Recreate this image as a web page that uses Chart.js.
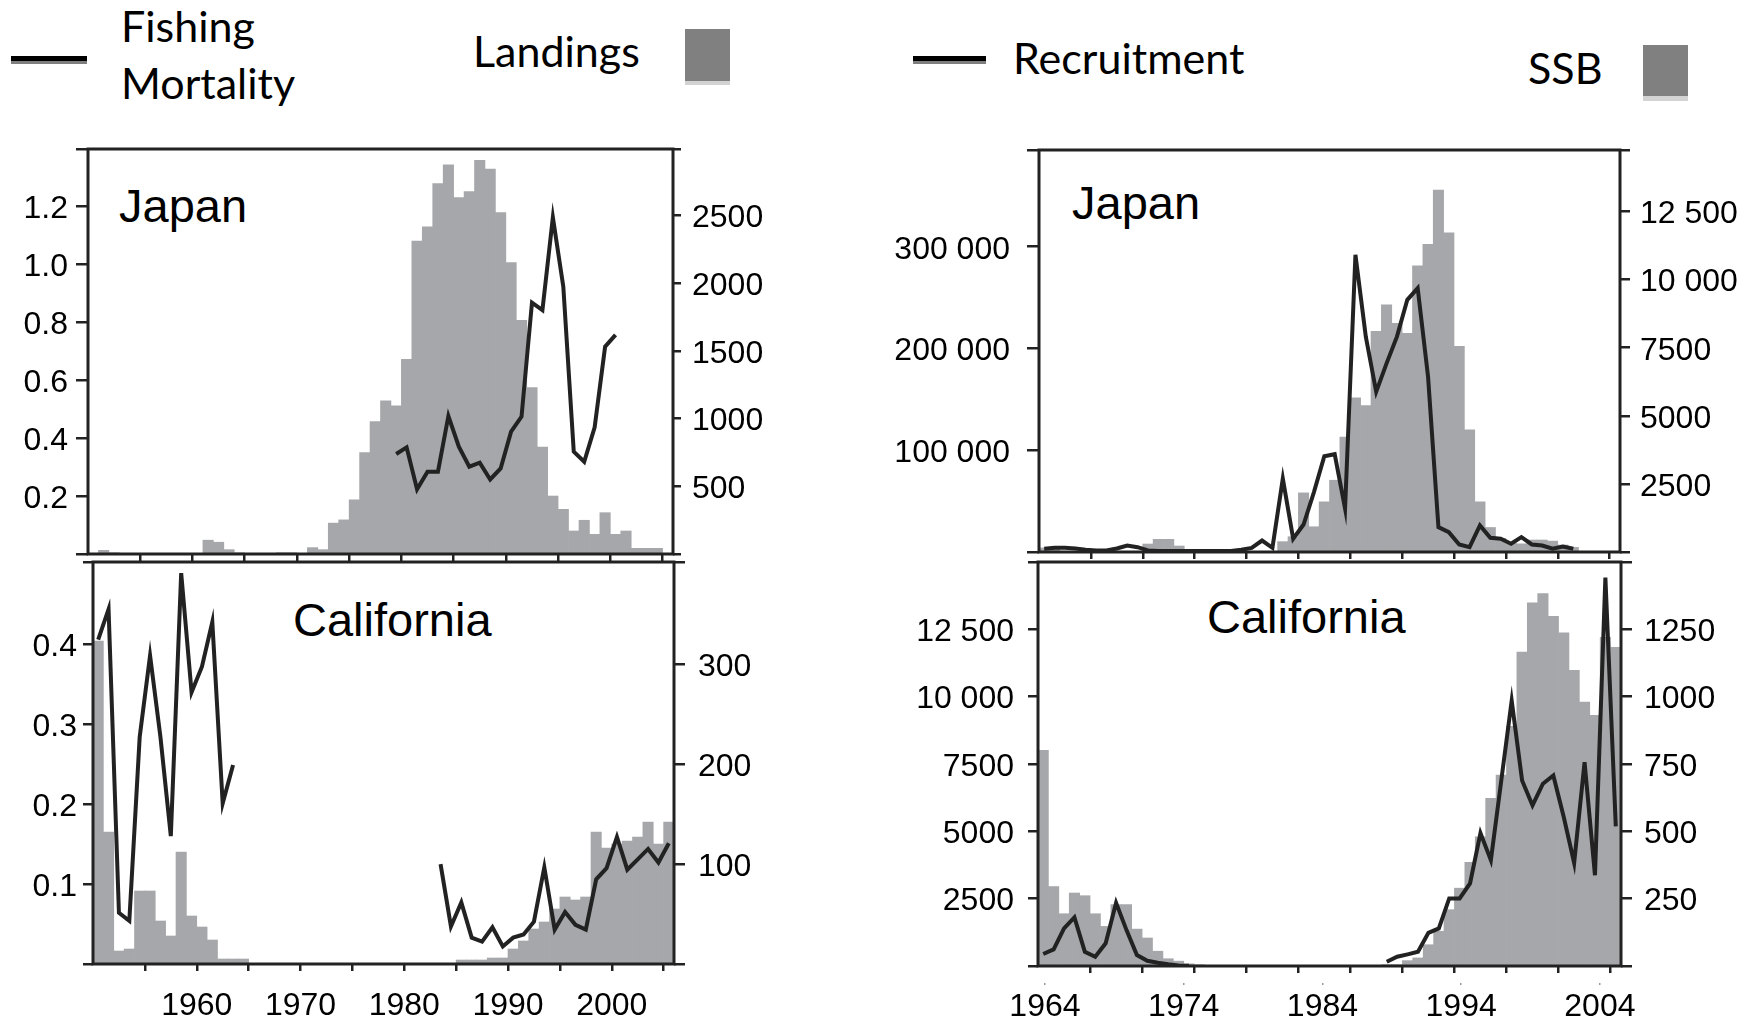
<!DOCTYPE html>
<html>
<head>
<meta charset="utf-8">
<title>Sardine: Japan and California</title>
<script src="https://cdn.jsdelivr.net/npm/chart.js@4.4.1/dist/chart.umd.min.js"></script>
<style>
  html, body { margin: 0; padding: 0; background: #fff; }
  body { position: relative; width: 1756px; height: 1023px; overflow: hidden; }
  canvas { position: absolute; }
  .lg { position: absolute; font-family: Lato, 'Open Sans', sans-serif; font-size: 43px; line-height: 1; color: #000; white-space: nowrap; }
  .pl { position: absolute; font-family: 'Liberation Sans', Arial, sans-serif; font-size: 47px; line-height: 1; color: #000; white-space: nowrap; }
  .sw { position: absolute; }
</style>
</head>
<body>
<!-- legend, left pair -->
<div class="sw" style="left:11px;top:56px;width:76px;height:5px;background:#000"></div>
<div class="sw" style="left:11px;top:61px;width:76px;height:3px;background:#7f7f7f"></div>
<div class="lg" style="left:121px;top:4px">Fishing</div>
<div class="lg" style="left:121px;top:61px">Mortality</div>
<div class="lg" style="left:473px;top:29px">Landings</div>
<div class="sw" style="left:685px;top:29px;width:45px;height:52px;background:#808080"></div>
<div class="sw" style="left:685px;top:81px;width:45px;height:4px;background:#d3d3d3"></div>
<!-- legend, right pair -->
<div class="sw" style="left:913px;top:56px;width:73px;height:5px;background:#000"></div>
<div class="sw" style="left:913px;top:61px;width:73px;height:3px;background:#7f7f7f"></div>
<div class="lg" style="left:1013px;top:36px">Recruitment</div>
<div class="lg" style="left:1528px;top:46px">SSB</div>
<div class="sw" style="left:1643px;top:45px;width:45px;height:51px;background:#808080"></div>
<div class="sw" style="left:1643px;top:96px;width:45px;height:5px;background:#d3d3d3"></div>

<script>
// one value per year, 1950 .. 2005
const years = [1950, 1951, 1952, 1953, 1954, 1955, 1956, 1957, 1958, 1959,
  1960, 1961, 1962, 1963, 1964, 1965, 1966, 1967, 1968, 1969,
  1970, 1971, 1972, 1973, 1974, 1975, 1976, 1977, 1978, 1979,
  1980, 1981, 1982, 1983, 1984, 1985, 1986, 1987, 1988, 1989,
  1990, 1991, 1992, 1993, 1994, 1995, 1996, 1997, 1998, 1999,
  2000, 2001, 2002, 2003, 2004, 2005];

// Japan: landings (bars, right axis) and fishing mortality (line, left axis)
const japanLandings = [null, 27, 5, 0, 0, 0, 0, 0, 0, 0,
  0, 102, 87, 32, 5, 0, 0, 0, 6, 6,
  0, 47, 32, 228, 252, 400, 748, 977, 1130, 1093,
  1438, 2311, 2415, 2735, 2873, 2631, 2675, 2907, 2841, 2520,
  2151, 1726, 1228, 790, 428, 330, 170, 249, 145, 305,
  145, 170, 42, 42, 42, null];
const japanF = [null, null, null, null, null, null, null, null, null, null,
  null, null, null, null, null, null, null, null, null, null,
  null, null, null, null, null, null, null, null, null, 0.345,
  0.368, 0.223, 0.284, 0.284, 0.476, 0.37, 0.301, 0.315, 0.257, 0.295,
  0.422, 0.474, 0.867, 0.841, 1.161, 0.922, 0.353, 0.318, 0.437, 0.715,
  0.756, null, null, null, null, null];

// California: landings and fishing mortality
const calLandings = [323, 132, 13, 15, 73, 73, 43, 28, 112, 48,
  37, 24, 5, 5, 5, null, null, null, null, null,
  null, null, null, null, null, null, null, null, null, null,
  null, null, null, null, null, 4, 4, 4, 6, 6,
  15, 23, 35, 42, 55, 67, 64, 67, 132, 116,
  120, 123, 127, 142, 120, 142];
const calF = [0.406, 0.444, 0.064, 0.054, 0.284, 0.386, 0.284, 0.160, 0.489, 0.340,
  0.372, 0.428, 0.201, 0.249, null, null, null, null, null, null,
  null, null, null, null, null, null, null, null, null, null,
  null, null, null, 0.125, 0.047, 0.077, 0.033, 0.028, 0.046, 0.022,
  0.033, 0.037, 0.053, 0.121, 0.043, 0.065, 0.049, 0.043, 0.106, 0.120,
  0.159, 0.118, 0.131, 0.144, 0.127, 0.151];

// Japan: recruitment (line, left axis) and SSB (bars, right axis)
const japanRec = [3200, 4100, 4100, 3500, 2200, 1500, 1500, 3500, 6400, 4700,
  1500, 1000, 1000, 1000, 1000, 1000, 1000, 1000, 1000, 2200,
  4000, 11300, 4100, 72100, 13000, 27000, 58900, 94100, 96100, 42600,
  292100, 211600, 157400, 185400, 211600, 247800, 259300, 172200, 24400, 19500,
  7400, 4700, 26100, 14000, 13000, 8100, 14600, 7400, 6400, 3200,
  5400, 3200, null, null, null, null];
const japanSSB = [150, 150, 0, 0, 0, 0, 0, 0, 0, 0,
  293, 465, 465, 220, 0, 0, 0, 0, 0, 0,
  0, 0, 0, 380, 560, 2170, 927, 1842, 2635, 4221,
  5661, 5380, 8100, 9077, 8393, 8027, 10504, 11298, 13286, 11723,
  7551, 4490, 1842, 900, 500, 350, 300, 440, 440, 400,
  256, 170, null, null, null, null];

// California: recruitment and SSB
const calRec = [444, 618, 1396, 1804, 530, 345, 841, 2345, 1333, 407,
  196, 122, 63, 20, 10, null, null, null, null, null,
  null, null, null, null, null, null, null, null, null, null,
  null, null, null, 159, 344, 433, 530, 1233, 1396, 2508,
  2508, 3063, 4937, 3926, 6889, 9853, 6889, 5963, 6767, 7075,
  5530, 3826, 7568, 3371, 14420, 5186];
const calSSB = [801, 295, 194, 271, 261, 194, 147, 228, 228, 137,
  104, 55, 27, 18, 8, 4, null, null, null, null,
  null, null, null, null, null, null, null, null, null, null,
  null, null, null, 3, 5, 20, 30, 79, 129, 209,
  289, 385, 480, 623, 709, 890, 1166, 1348, 1383, 1298,
  1237, 1098, 980, 931, 1220, 1183];

// tick values
const fTicksJapan = [0.2, 0.4, 0.6, 0.8, 1.0, 1.2];
const landTicksJapan = [500, 1000, 1500, 2000, 2500];
const fTicksCal = [0.1, 0.2, 0.3, 0.4];
const landTicksCal = [100, 200, 300];
const recTicksJapan = [100000, 200000, 300000];
const ssbTicksJapan = [2500, 5000, 7500, 10000, 12500];
const recTicksCal = [2500, 5000, 7500, 10000, 12500];
const ssbTicksCal = [250, 500, 750, 1000, 1250];
const yearTicks = [1955, 1960, 1965, 1970, 1975, 1980, 1985, 1990, 1995, 2000, 2005];
const leftYearLabels = [1960, 1970, 1980, 1990, 2000];
const rightYearLabels = [1964, 1974, 1984, 1994, 2004];

const FONT = "'Liberation Sans', Arial, Helvetica, sans-serif";
const INK = '#222';
const BAR = '#a6a7aa';

function spaced(v) {
  return v >= 10000 ? String(v).replace(/\B(?=(\d{3})+(?!\d))/g, ' ') : String(v);
}
const oneDec = v => v.toFixed(1);
const toPoints = vals => years.map((y, i) => ({ x: y + 0.5, y: vals[i] }));

// draws the frame round the plot area
const framePlugin = {
  id: 'frame',
  afterDraw(chart) {
    const { ctx, chartArea: a } = chart;
    ctx.save();
    ctx.strokeStyle = INK;
    ctx.lineWidth = 3;
    ctx.strokeRect(a.left, a.top, a.right - a.left, a.bottom - a.top);
    ctx.restore();
  }
};

function makePanel(p) {
  const [left, top, W, H] = p.box;
  const a = p.area;
  const cv = document.createElement('canvas');
  cv.width = W; cv.height = H;
  cv.style.left = left + 'px';
  cv.style.top = top + 'px';
  document.body.appendChild(cv);

  const tickFont = { family: FONT, size: 32 };
  // tick marks also at both ends of each value axis, those stay unlabelled
  const yAxis = (cfg, side) => ({
    type: 'linear', position: side, min: cfg.min, max: cfg.max,
    afterBuildTicks: s => { s.ticks = [cfg.min, ...cfg.ticks, cfg.max].map(v => ({ value: v })); },
    afterFit: s => {
      s.width = side === 'left' ? a.l : W - a.r;
      s.paddingTop = 0; s.paddingBottom = 0;
    },
    grid: { display: true, drawOnChartArea: false, drawTicks: true, tickLength: cfg.tick, color: INK, lineWidth: 2.5 },
    border: { display: false },
    ticks: {
      font: tickFont, color: '#000', padding: cfg.pad, labelOffset: 3, autoSkip: false,
      callback: v => cfg.ticks.includes(v) ? cfg.fmt(v) : ''
    }
  });

  const scales = {
    x: {
      type: 'linear', position: 'bottom', min: 1950, max: 2006, weight: 0, offset: false,
      afterBuildTicks: s => { s.ticks = yearTicks.map(v => ({ value: v })); },
      afterFit: s => { s.height = p.xH; s.paddingLeft = 0; s.paddingRight = 0; },
      grid: { display: true, offset: false, drawOnChartArea: false, drawTicks: true, tickLength: 7, color: INK, lineWidth: 2.5 },
      border: { display: false },
      ticks: {
        display: !!p.xLabels, font: tickFont, color: '#000', padding: 16, maxRotation: 0, autoSkip: false,
        callback: v => (p.xLabels && p.xLabels.includes(v)) ? String(v) : ''
      }
    },
    yL: yAxis(p.yl, 'left'),
    yR: yAxis(p.yr, 'right')
  };

  if (p.xl) {
    // separate row of year labels under the tick marks
    scales.xl = {
      type: 'linear', position: 'bottom', min: p.xl.min, max: p.xl.max, weight: 1, offset: false,
      afterBuildTicks: s => { s.ticks = p.xl.labels.map(v => ({ value: v })); },
      afterFit: s => { s.height = H - a.b - p.xH; s.paddingLeft = 0; s.paddingRight = 0; },
      grid: { display: true, offset: false, drawOnChartArea: false, drawTicks: true, tickLength: 2, color: '#999', lineWidth: 1.5 },
      border: { display: false },
      ticks: { font: tickFont, color: '#000', padding: 3, maxRotation: 0, autoSkip: false, callback: v => String(v) }
    };
  }

  new Chart(cv, {
    data: {
      datasets: [
        {
          type: 'line', label: p.lineName, data: toPoints(p.line),
          xAxisID: 'x', yAxisID: 'yL', order: 0,
          borderColor: INK, borderWidth: 4, pointRadius: 0, tension: 0, spanGaps: false
        },
        {
          type: 'bar', label: p.barName, data: toPoints(p.bars),
          xAxisID: 'x', yAxisID: 'yR', order: 1,
          backgroundColor: BAR, borderWidth: 0, barPercentage: 1, categoryPercentage: 1
        }
      ]
    },
    options: {
      responsive: false,
      animation: false,
      devicePixelRatio: 1,
      layout: { padding: { top: a.t, left: 0, right: 0, bottom: 0 } },
      plugins: { legend: { display: false }, tooltip: { enabled: false }, title: { display: false } },
      scales: scales
    },
    plugins: [framePlugin]
  });
}

document.addEventListener('DOMContentLoaded', () => {
  try {
    makePanel({
      box: [0, 120, 870, 441], area: { l: 88, r: 673, t: 29, b: 434 }, xH: 7,
      bars: japanLandings, line: japanF, barName: 'Landings', lineName: 'Fishing Mortality',
      yl: { min: 0, max: 1.397, ticks: fTicksJapan, fmt: oneDec, tick: 12, pad: 8 },
      yr: { min: 0, max: 2990, ticks: landTicksJapan, fmt: spaced, tick: 8, pad: 11 }
    });
    makePanel({
      box: [0, 559, 870, 464], area: { l: 93, r: 674, t: 3, b: 405 }, xH: 59,
      bars: calLandings, line: calF, barName: 'Landings', lineName: 'Fishing Mortality',
      yl: { min: 0, max: 0.503, ticks: fTicksCal, fmt: oneDec, tick: 10, pad: 6 },
      yr: { min: 0, max: 402, ticks: landTicksCal, fmt: spaced, tick: 11, pad: 13 },
      xLabels: leftYearLabels
    });
    makePanel({
      box: [870, 120, 886, 441], area: { l: 169, r: 750, t: 30, b: 432 }, xH: 9,
      bars: japanSSB, line: japanRec, barName: 'SSB', lineName: 'Recruitment',
      yl: { min: 0, max: 395000, ticks: recTicksJapan, fmt: spaced, tick: 12, pad: 17 },
      yr: { min: 0, max: 14760, ticks: ssbTicksJapan, fmt: spaced, tick: 10, pad: 10 }
    });
    makePanel({
      box: [870, 559, 886, 464], area: { l: 168, r: 751, t: 3, b: 407 }, xH: 17,
      bars: calSSB, line: calRec, barName: 'SSB', lineName: 'Recruitment',
      yl: { min: 0, max: 15000, ticks: recTicksCal, fmt: spaced, tick: 10, pad: 14 },
      yr: { min: 0, max: 1500, ticks: ssbTicksCal, fmt: spaced, tick: 11, pad: 12 },
      xl: { min: 1963.5, max: 2005.52, labels: rightYearLabels }
    });
  } catch (error) {
    console.error('Chart error:', error);
  }
});
</script>
<div class="pl" style="left:119px;top:182px">Japan</div>
<div class="pl" style="left:1072px;top:179px">Japan</div>
<div class="pl" style="left:293px;top:596px">California</div>
<div class="pl" style="left:1207px;top:593px">California</div>
</body>
</html>
